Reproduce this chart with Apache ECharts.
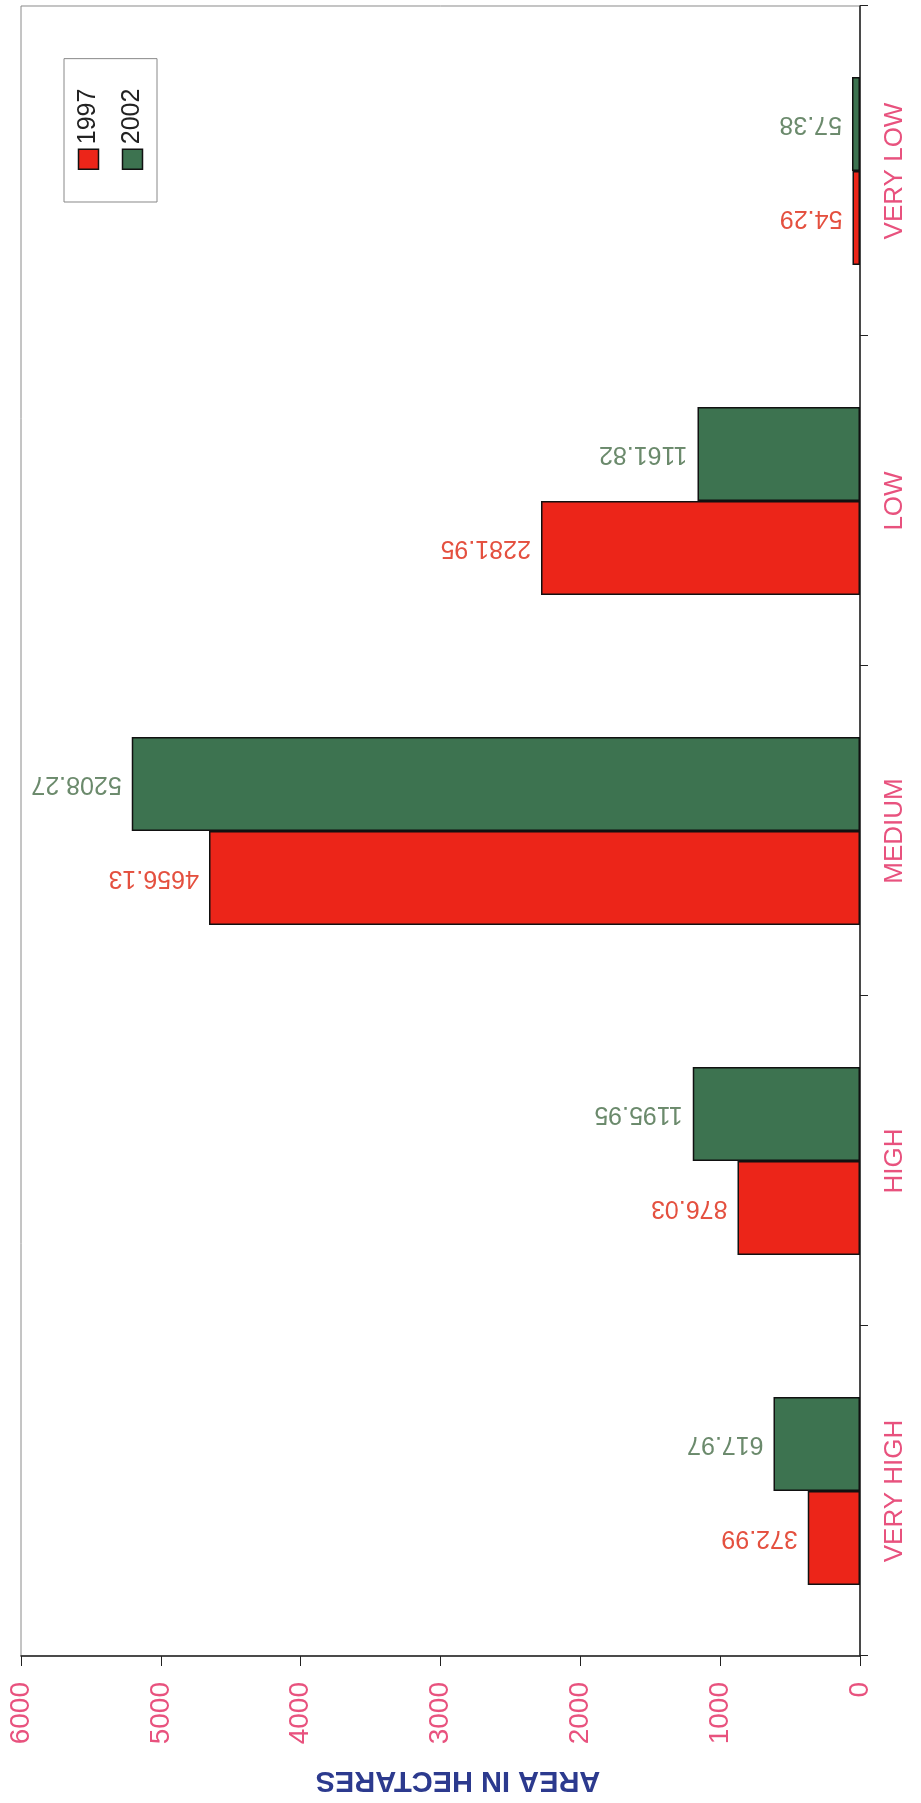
<!DOCTYPE html>
<html>
<head>
<meta charset="utf-8">
<script src="https://cdn.jsdelivr.net/npm/echarts@6/dist/echarts.min.js"></script>
<style>
html, body { margin:0; padding:0; overflow:hidden; background:#fff; width:921px; height:1803px; }
#wrap { position:absolute; left:0; top:0; width:1803px; height:921px;
        transform-origin:0 0; transform:translateY(1803px) rotate(-90deg); }
</style>
</head>
<body>
<div id="wrap"></div>
<script>
// Data (chart is drawn in its original upright orientation, page is turned 90° as in the reference)
const categories = ['VERY HIGH', 'HIGH', 'MEDIUM', 'LOW', 'VERY LOW'];
const seriesNames = ['1997', '2002'];
const values1997 = [372.99, 876.03, 4656.13, 2281.95, 54.29];
const values2002 = [617.97, 1195.95, 5208.27, 1161.82, 57.38];
const valueTicks = { min: 0, max: 6000, interval: 1000 };
const axisTitle = 'AREA IN HECTARES';

const FONT = 'Liberation Sans, Arial, sans-serif';
const PINK = '#e8527e';
const RED = '#ec2519';
const GREEN = '#3d7350';

const chart = echarts.init(document.getElementById('wrap'), null, { renderer: 'canvas' });

function barSeries(name, data, color, labelColor) {
  return {
    name: name,
    type: 'bar',
    data: data,
    barWidth: 94,
    barGap: '0%',
    itemStyle: { color: color, borderColor: '#111', borderWidth: 1.5 },
    label: {
      show: true,
      position: 'top',
      rotate: 90,
      align: 'left',
      verticalAlign: 'middle',
      distance: 10,
      color: labelColor,
      fontSize: 25,
      fontFamily: FONT,
      formatter: function (p) { return String(p.value); }
    }
  };
}

chart.setOption({
  animation: false,
  backgroundColor: '#fff',
  grid: { left: 147, right: 6, top: 21, bottom: 61, show: true, borderColor: '#8a8a8a', borderWidth: 1 },
  legend: {
    orient: 'vertical',
    left: 1601,
    top: 64,
    data: seriesNames,
    itemWidth: 20,
    itemHeight: 20,
    itemGap: 19,
    padding: [12, 30, 12, 32],
    borderColor: '#888',
    borderWidth: 1,
    icon: 'rect',
    textStyle: { fontSize: 25, color: '#222', fontFamily: FONT },
    itemStyle: { borderColor: '#111', borderWidth: 1.5 }
  },
  xAxis: {
    type: 'category',
    data: categories,
    boundaryGap: true,
    axisLine: { show: true, lineStyle: { color: '#222', width: 1.5 } },
    axisTick: { show: true, length: 8, lineStyle: { color: '#222' } },
    axisLabel: { color: PINK, fontSize: 26, margin: 22, fontFamily: FONT }
  },
  yAxis: {
    type: 'value',
    min: valueTicks.min,
    max: valueTicks.max,
    interval: valueTicks.interval,
    splitLine: { show: false },
    axisLine: { show: true, lineStyle: { color: '#222', width: 1.5 } },
    axisTick: { show: true, length: 10, lineStyle: { color: '#222' } },
    axisLabel: { color: PINK, fontSize: 28, margin: 26, fontFamily: FONT,
                 formatter: function (v) { return String(v); } },
    name: axisTitle,
    nameLocation: 'middle',
    nameGap: 110,
    nameTextStyle: { color: '#2c3a8e', fontSize: 29, fontWeight: 'bold', fontFamily: FONT, padding: [0, 35, 0, 0] }
  },
  series: [
    barSeries(seriesNames[0], values1997, RED, '#e4503f'),
    barSeries(seriesNames[1], values2002, GREEN, '#6b8a6c')
  ]
});
</script>
</body>
</html>
